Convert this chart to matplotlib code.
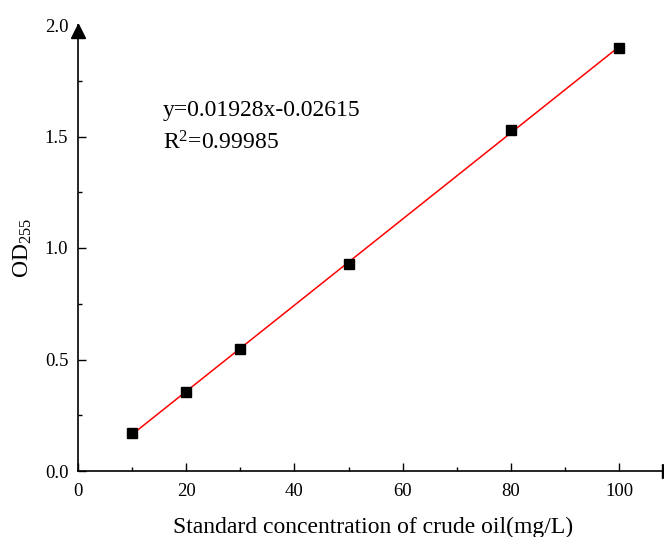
import numpy as np
import matplotlib
matplotlib.use("Agg")
import matplotlib.pyplot as plt
import matplotlib.transforms as mtransforms
from matplotlib.ticker import MultipleLocator

# standard curve data
conc = [10, 20, 30, 50, 80, 100]
od255 = [0.170, 0.354, 0.548, 0.928, 1.529, 1.897]
x_ticks = [0, 20, 40, 60, 80, 100]
y_ticks = [0.0, 0.5, 1.0, 1.5, 2.0]
eq_text = "y=0.01928x-0.02615"
r2_text = r"R$^{2}$=0.99985"

plt.rcParams['font.family'] = ['Liberation Serif', 'DejaVu Serif']
plt.rcParams['mathtext.fontset'] = 'custom'
plt.rcParams['mathtext.rm'] = 'Liberation Serif'
plt.rcParams['mathtext.it'] = 'Liberation Serif:italic'


def setup_plot():
    fig = plt.figure(figsize=(6.64, 5.37), dpi=100)
    ax = fig.add_axes([78 / 664, 1 - 471 / 537, (668.5 - 78) / 664, (471 - 25) / 537])
    ax.set_xlim(0, (668.5 - 78) / 5.41)
    ax.set_ylim(0, 2.0)
    for side in ['top', 'right']:
        ax.spines[side].set_visible(False)
    for side in ['left', 'bottom']:
        ax.spines[side].set_linewidth(1.2)
        ax.spines[side].set_clip_on(False)
    ax.set_xticks(x_ticks)
    ax.set_yticks(y_ticks)
    ax.xaxis.set_minor_locator(MultipleLocator(10))
    ax.yaxis.set_minor_locator(MultipleLocator(0.25))
    ax.tick_params(which='major', direction='in', length=6, width=1, labelsize=13.5)
    ax.tick_params(axis='x', pad=9)
    ax.tick_params(axis='y', pad=7)
    ax.tick_params(which='minor', direction='in', length=3, width=1)
    ax.yaxis.set_major_formatter(matplotlib.ticker.FormatStrFormatter('%.1f'))
    return fig, ax


def draw(fig, ax):
    x = np.array(conc)
    y = np.array(od255)
    k, b = np.polyfit(x, y, 1)
    xs = np.array([x.min(), x.max()])
    ax.plot(xs, k * xs + b, color='red', lw=1.1, zorder=2)
    ax.plot(x, y, 's', color='black', ms=7, zorder=3, clip_on=False)

    # axis arrows
    up = mtransforms.offset_copy(ax.transAxes, fig=fig, y=-5.5, units='dots')
    ax.plot(0, 1, '^', color='black', ms=9.5, transform=up, clip_on=False)
    ax.plot(1, 0, '>', color='black', ms=9.5, transform=ax.transAxes, clip_on=False)

    # the arrow head hides the tick at the top
    ax.yaxis.get_major_ticks()[-1].tick1line.set_visible(False)

    ax.text(0.144, 0.809, eq_text, transform=ax.transAxes, fontsize=17, va='center')
    ax.text(0.144, 0.735, r2_text, transform=ax.transAxes, fontsize=17, va='center')

    ax.set_xlabel("Standard concentration of crude oil(mg/L)", fontsize=17, labelpad=12)
    ax.set_ylabel(r"OD$_{255}$", fontsize=17, labelpad=8)


def main():
    fig, ax = setup_plot()
    draw(fig, ax)
    fig.savefig("out.png", dpi=100)


if __name__ == "__main__":
    main()
